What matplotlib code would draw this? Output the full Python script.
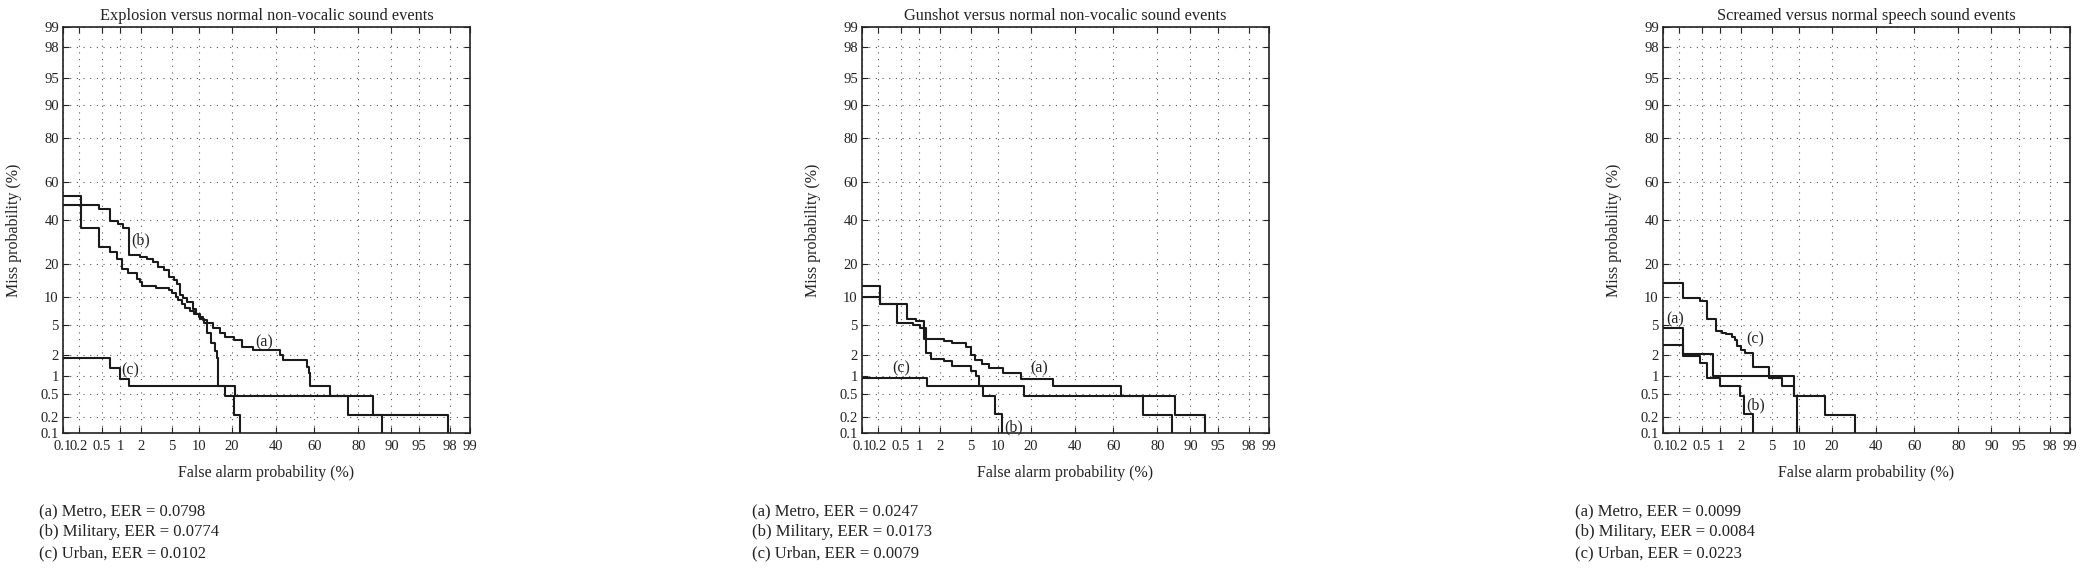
import numpy as np
import matplotlib
matplotlib.use("Agg")
import matplotlib.pyplot as plt
from statistics import NormalDist

plt.rcParams['font.family'] = ['Liberation Serif', 'DejaVu Serif']

# probit (normal deviate) scale for DET curves, values in percent
_nd = NormalDist()


def probit(p):
    p = np.clip(np.asarray(p, dtype=float), 1e-6, 100 - 1e-6)
    return np.vectorize(lambda v: _nd.inv_cdf(v / 100.0), otypes=[float])(p)


def unprobit(z):
    z = np.asarray(z, dtype=float)
    return np.vectorize(lambda v: _nd.cdf(v) * 100.0, otypes=[float])(z)


tick_vals = [0.1, 0.2, 0.5, 1, 2, 5, 10, 20, 40, 60, 80, 90, 95, 98, 99]
tick_labels = ['0.1', '0.2', '0.5', '1', '2', '5', '10', '20', '40', '60', '80', '90', '95', '98', '99']

titles = ['Explosion versus normal non-vocalic sound events',
          'Gunshot versus normal non-vocalic sound events',
          'Screamed versus normal speech sound events']

# --- Explosion
exp_a_fa = [0.1, 0.22, 0.46, 0.69, 0.87, 1.05, 1.3, 1.78, 1.95, 2.1, 3.2, 4.6, 5.0, 5.6, 6.0, 6.6, 7.2, 8.0, 9.0, 10.0,
            11.0, 12.0, 13.8, 15.8, 17.5, 20.6, 23.8, 28.5, 42, 43.5, 56.5, 57.3, 58, 67.8, 85, 87.6]
exp_a_miss = [53, 36, 27, 25, 22, 18.5, 17, 15, 14, 13, 12.3, 11.8, 11, 10, 9.3, 8.5, 7.8, 7.2, 6.6, 6.2,
              5.6, 5.2, 4.6, 3.9, 3.5, 3.2, 2.6, 2.4, 2.0, 1.7, 1.35, 1.1, 0.7, 0.47, 0.22, 0.1]
exp_b_fa = [0.1, 0.46, 0.69, 0.93, 1.1, 1.36, 1.97, 2.4, 2.9, 3.4, 4.0, 4.6, 5.3, 5.8, 6.3, 6.8, 7.5, 8.6, 9.3, 10.3,
            11.2, 12.0, 13.2, 14.3, 14.8, 15.3, 17.5, 20.6, 23]
exp_b_miss = [48, 46, 39.5, 38, 36, 23.7, 23, 22, 21, 19, 18, 15.8, 14.7, 13.6, 10.6, 9.8, 9.0, 7.6, 6.6, 5.8,
              5.2, 3.9, 2.9, 2.3, 1.85, 0.7, 0.47, 0.22, 0.1]
exp_c_fa = [0.1, 0.69, 0.98, 1.36, 21, 75.7, 97.9]
exp_c_miss = [1.85, 1.3, 0.9, 0.7, 0.47, 0.22, 0.1]

# --- Gunshot
gun_a_fa = [0.1, 0.22, 0.63, 0.9, 1.16, 2.25, 2.9, 4.4, 5.0, 5.6, 6.8, 8.1, 11.3, 16.6, 29, 64, 86, 93]
gun_a_miss = [12.9, 8.5, 5.8, 5.5, 3.3, 3.1, 2.9, 2.6, 2.0, 1.7, 1.5, 1.3, 1.1, 0.88, 0.68, 0.47, 0.22, 0.1]
gun_b_fa = [0.1, 0.22, 0.44, 0.8, 1.03, 1.28, 1.5, 2.25, 2.9, 5.0, 5.8, 6.3, 7.0, 9.3, 11]
gun_b_miss = [10, 8.5, 5.3, 5.0, 4.6, 2.15, 1.8, 1.65, 1.4, 1.2, 1.0, 0.7, 0.47, 0.23, 0.1]
gun_c_fa = [0.1, 1.3, 17.5, 74, 85]
gun_c_miss = [0.93, 0.68, 0.47, 0.22, 0.1]

# --- Screamed
scr_a_fa = [0.1, 0.24, 0.76, 9.0, 9.6]
scr_a_miss = [4.5, 2.1, 1.0, 0.47, 0.1]
scr_b_fa = [0.1, 0.24, 0.47, 0.62, 0.98, 1.95, 2.2, 2.9]
scr_b_miss = [2.8, 1.95, 1.55, 0.93, 0.7, 0.47, 0.23, 0.1]
scr_c_fa = [0.1, 0.24, 0.47, 0.62, 0.85, 1.04, 1.23, 1.47, 1.63, 1.79, 2.04, 2.3, 2.9, 4.7, 6.6, 9.0, 17.5, 29.6]
scr_c_miss = [13.9, 9.9, 9.2, 5.9, 4.2, 4.0, 3.85, 3.5, 3.2, 2.7, 2.35, 2.15, 1.37, 0.93, 0.68, 0.47, 0.22, 0.1]

curves = [
    [(exp_a_fa, exp_a_miss), (exp_b_fa, exp_b_miss), (exp_c_fa, exp_c_miss)],
    [(gun_a_fa, gun_a_miss), (gun_b_fa, gun_b_miss), (gun_c_fa, gun_c_miss)],
    [(scr_a_fa, scr_a_miss), (scr_b_fa, scr_b_miss), (scr_c_fa, scr_c_miss)],
]

# curve tags (position in fa %, miss %)
tags = [
    [('(a)', 34, 3.0), ('(b)', 2.0, 30), ('(c)', 1.4, 1.2)],
    [('(a)', 23, 1.3), ('(b)', 14.3, 0.13), ('(c)', 0.52, 1.3)],
    [('(a)', 0.17, 5.7), ('(b)', 3.2, 0.32), ('(c)', 3.1, 3.3)],
]

eer_lines = [
    ['(a) Metro, EER = 0.0798', '(b) Military, EER = 0.0774', '(c) Urban, EER = 0.0102'],
    ['(a) Metro, EER = 0.0247', '(b) Military, EER = 0.0173', '(c) Urban, EER = 0.0079'],
    ['(a) Metro, EER = 0.0099', '(b) Military, EER = 0.0084', '(c) Urban, EER = 0.0223'],
]

W, H = 2088, 568
fig = plt.figure(figsize=(W / 100, H / 100), dpi=100)

ax_left = [63, 862, 1663]
ax_w, ax_top, ax_bot = 407, 27, 433
text_x = [39, 752, 1575]
ink = '#222222'

for i in range(3):
    ax = fig.add_axes([ax_left[i] / W, 1 - ax_bot / H, ax_w / W, (ax_bot - ax_top) / H])
    ax.set_xscale('function', functions=(probit, unprobit))
    ax.set_yscale('function', functions=(probit, unprobit))
    ax.set_xlim(0.1, 99)
    ax.set_ylim(0.1, 99)
    ax.set_xticks(tick_vals)
    ax.set_xticklabels(tick_labels)
    ax.set_yticks(tick_vals)
    ax.set_yticklabels(tick_labels)
    ax.minorticks_off()
    ax.tick_params(direction='in', top=True, right=True, length=4, width=0.8,
                   labelsize=10.5, pad=3, colors=ink)
    ax.tick_params(axis='x', pad=5)
    ax.grid(True, linestyle=(0, (1, 5)), color='#555555', linewidth=0.8)
    for s in ax.spines.values():
        s.set_linewidth(1.2)
        s.set_color(ink)

    for fa, miss in curves[i]:
        ax.step(fa, miss, where='post', color='#1a1a1a', linewidth=1.5)

    for t, tx, ty in tags[i]:
        ax.text(tx, ty, t, ha='center', va='center', fontsize=11.5, color=ink)

    ax.set_title(titles[i], fontsize=11.8, pad=5, color=ink)
    ax.set_xlabel('False alarm probability (%)', fontsize=11.5, labelpad=9, color=ink)
    ax.set_ylabel('Miss probability (%)', fontsize=11.5, labelpad=13, color=ink)

    for k, line in enumerate(eer_lines[i]):
        fig.text(text_x[i] / W, 1 - (512 + 20.5 * k) / H, line, ha='left', va='center',
                 fontsize=12, color=ink)

fig.savefig('out.png', dpi=100)
